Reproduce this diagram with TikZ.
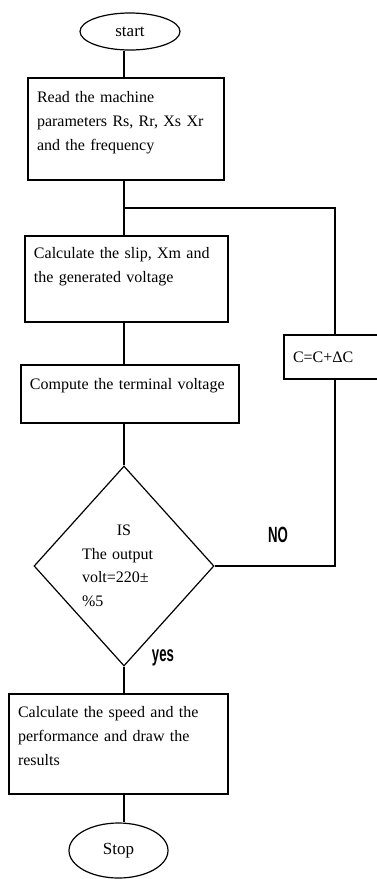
\documentclass[tikz,border=0pt]{standalone}
\usepackage{fontspec}
\setmainfont{Liberation Serif}
\newfontfamily\flagfont[FakeStretch=0.6]{Liberation Sans}
\usepackage{tikz}
\usetikzlibrary{shapes.geometric, calc}
\definecolor{chartink}{RGB}{0,0,0}
\newcommand{\padbelow}[1]{\rule[-#1]{0pt}{#1}}
\tikzset{
  stepbox/.style={
    draw=chartink,
    line width=1.2pt,
    align=left,
    inner xsep=9pt,
    inner ysep=3pt,
    font=\fontsize{16}{24}\selectfont,
    text=chartink
  },
  terminal/.style={
    ellipse,
    draw=chartink,
    line width=1.2pt,
    inner sep=0pt,
    font=\fontsize{17}{20}\selectfont,
    text=chartink
  },
  decision/.style={
    diamond,
    draw=chartink,
    line width=1.2pt,
    inner sep=0pt,
    align=left,
    text width=84pt,
    minimum width=180pt,
    minimum height=200pt,
    font=\fontsize{16}{23.5}\selectfont,
    text=chartink
  },
  flag/.style={font=\flagfont\bfseries\fontsize{22}{22}\selectfont, text=chartink, inner sep=0pt},
  link/.style={line width=1.2pt, draw=chartink}
}

\begin{document}
\begin{tikzpicture}[x=1pt,y=-1pt]
    \useasboundingbox (0,0) rectangle (377,879);
    \clip (0,0) rectangle (377,879);
    \coordinate (spine) at (124,0);
    \coordinate (back) at (335,0);

    \node[terminal, minimum width=100pt, minimum height=37pt] (start) at (130,31.5) {start};
    \node[stepbox, minimum width=196pt, minimum height=102pt, text width=178pt] (read) at (126,129)
      {Read the machine\\parameters Rs, Rr, Xs Xr\\and the frequency\padbelow{16pt}};
    \node[stepbox, minimum width=203pt, minimum height=86pt, text width=185pt] (slip) at (126.5,279)
      {Calculate the slip, Xm and\\the generated voltage\padbelow{28pt}};
    \node[stepbox, minimum width=110pt, minimum height=44pt, text width=92pt] (step) at (339,357) {C=C+ΔC};
    \node[stepbox, minimum width=218pt, minimum height=58pt, text width=200pt] (term) at (130,394)
      {Compute the terminal voltage\padbelow{20pt}};
    \node[decision] (check) at (124,566)
      {\makebox[\hsize]{IS}\\The output\\volt=220±\\\%5};
    \node[stepbox, minimum width=219pt, minimum height=100pt, text width=201pt] (speed) at (118.5,744)
      {Calculate the speed and the\\performance and draw the\\results\padbelow{16pt}};
    \node[terminal, minimum width=99pt, minimum height=55pt] (stop) at (118.5,850.5) {Stop};

    \coordinate (join) at ($(read.south)!0.5!(slip.north)$);

    \draw[link] (start.south -| spine) -- (read.north -| spine);
    \draw[link] (read.south -| spine) -- (slip.north -| spine);
    \draw[link] (join -| spine) -| (step.north -| back);
    \draw[link] (slip.south -| spine) -- (term.north -| spine);
    \draw[link] (term.south -| spine) -- (check.north);
    \draw[link] (check.east) -| (step.south -| back);
    \draw[link] (check.south) -- (speed.north -| spine);
    \draw[link] (speed.south -| spine) -- (stop.north -| spine);

    \node[flag] (no) at (278,535) {NO};
    \node[flag] (yes) at (163,658) {yes};
  \end{tikzpicture}
\end{document}
